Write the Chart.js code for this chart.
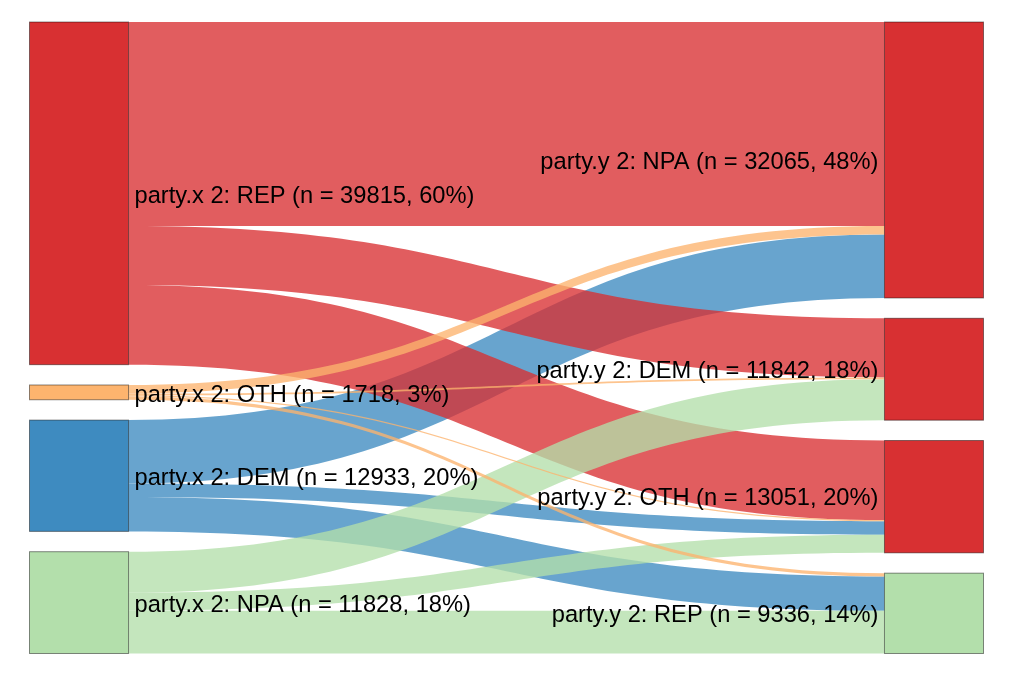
<!DOCTYPE html>
<html><head><meta charset="utf-8">
<script src="https://cdn.jsdelivr.net/npm/chart.js@4/dist/chart.umd.min.js"></script>
<style>html,body{margin:0;padding:0;background:#fff}#wrap{width:1013px;height:675px;position:relative}</style>
</head><body><div id="wrap"><canvas id="c"></canvas></div>
<script>
// Left (party.x 2) node order and right (party.y 2) node order
const leftNodes = ['REP', 'OTH', 'DEM', 'NPA'];
const rightNodes = ['NPA', 'DEM', 'OTH', 'REP'];
// flows from each left node to right nodes [NPA, DEM, OTH, REP]
const fromREP = [23700, 6870, 9245, 0];
const fromOTH = [1000, 200, 130, 388];
const fromDEM = [7365, 0, 1578, 3990];
const fromNPA = [0, 4772, 2098, 4958];
const flowRows = {REP: fromREP, OTH: fromOTH, DEM: fromDEM, NPA: fromNPA};

const nodeRGB = {REP: [216, 48, 50], OTH: [253, 180, 110], DEM: [62, 139, 192], NPA: [179, 223, 171]};
const rightNodeRGB = [[216, 48, 50], [216, 48, 50], [216, 48, 50], [179, 223, 171]];
const drawOrder = ['DEM', 'REP', 'NPA', 'OTH'];
const GAP = 2360;
const NODE_W = 0.1038;

const leftTotals = leftNodes.map(s => flowRows[s].reduce((a, b) => a + b, 0));
const rightTotals = rightNodes.map((t, j) => leftNodes.reduce((a, s) => a + flowRows[s][j], 0));
const grand = leftTotals.reduce((a, b) => a + b, 0);
const yMax = grand + GAP * 3;

function layout(totals) {
  let y = 0; const out = [];
  totals.forEach(v => { out.push({y0: y, y1: y + v}); y += v + GAP; });
  return out;
}
const L = layout(leftTotals), R = layout(rightTotals);

const sankeyPlugin = {
  id: 'sankey',
  afterDatasetsDraw(chart) {
    const ctx = chart.ctx, xs = chart.scales.x, ys = chart.scales.y;
    const px = v => xs.getPixelForValue(v), py = v => ys.getPixelForValue(v);
    const links = [];
    const srcOff = L.map(n => n.y0);
    leftNodes.forEach((s, i) => {
      rightNodes.forEach((t, j) => {
        const v = flowRows[s][j];
        if (v > 0) { links.push({s, i, j, v, sy0: srcOff[i], sy1: srcOff[i] + v}); srcOff[i] += v; }
      });
    });
    const tgtOff = R.map(n => n.y0);
    rightNodes.forEach((t, j) => {
      leftNodes.forEach((s, i) => {
        const lk = links.find(l => l.i === i && l.j === j);
        if (lk) { lk.ty0 = tgtOff[j]; lk.ty1 = tgtOff[j] + lk.v; tgtOff[j] += lk.v; }
      });
    });
    const x0 = px(NODE_W), x1 = px(1 - NODE_W), xm = (x0 + x1) / 2;
    ctx.save();
    drawOrder.forEach(s => {
      links.filter(l => l.s === s).forEach(l => {
        const c = nodeRGB[s];
        ctx.fillStyle = `rgba(${c[0]},${c[1]},${c[2]},0.78)`;
        ctx.beginPath();
        ctx.moveTo(x0, py(l.sy0));
        ctx.bezierCurveTo(xm, py(l.sy0), xm, py(l.ty0), x1, py(l.ty0));
        ctx.lineTo(x1, py(l.ty1));
        ctx.bezierCurveTo(xm, py(l.ty1), xm, py(l.sy1), x0, py(l.sy1));
        ctx.closePath();
        ctx.fill();
      });
    });
    const drawNode = (c, n, xa, xb) => {
      const X0 = px(xa), X1 = px(xb), Y0 = py(n.y0), Y1 = py(n.y1);
      ctx.fillStyle = `rgb(${c[0]},${c[1]},${c[2]})`;
      ctx.fillRect(X0, Y0, X1 - X0, Y1 - Y0);
      ctx.strokeStyle = 'rgba(0,0,0,0.45)';
      ctx.lineWidth = 1;
      ctx.strokeRect(X0, Y0, X1 - X0, Y1 - Y0);
    };
    leftNodes.forEach((s, i) => drawNode(nodeRGB[s], L[i], 0, NODE_W));
    rightNodes.forEach((t, j) => drawNode(rightNodeRGB[j], R[j], 1 - NODE_W, 1));
    ctx.fillStyle = '#000';
    ctx.font = '23.7px "Liberation Sans", Arial, sans-serif';
    ctx.textBaseline = 'middle';
    ctx.textAlign = 'left';
    leftNodes.forEach((s, i) => {
      const pct = Math.round(leftTotals[i] / grand * 100);
      ctx.fillText(`party.x 2: ${s} (n = ${leftTotals[i]}, ${pct}%)`, x0 + 6, py((L[i].y0 + L[i].y1) / 2) + 3);
    });
    ctx.textAlign = 'right';
    rightNodes.forEach((t, j) => {
      const pct = Math.round(rightTotals[j] / grand * 100);
      ctx.fillText(`party.y 2: ${t} (n = ${rightTotals[j]}, ${pct}%)`, x1 - 6, py((R[j].y0 + R[j].y1) / 2) + 2);
    });
    ctx.restore();
  }
};

new Chart(document.getElementById('c'), {
  type: 'scatter',
  data: {datasets: [{data: [], pointRadius: 0}]},
  options: {
    responsive: true, maintainAspectRatio: false, animation: false,
    layout: {padding: {left: 29.5, right: 29.5, top: 22, bottom: 21.5}},
    plugins: {legend: {display: false}, tooltip: {enabled: false}},
    scales: {
      x: {type: 'linear', min: 0, max: 1, display: false},
      y: {type: 'linear', min: 0, max: yMax, reverse: true, display: false}
    }
  },
  plugins: [sankeyPlugin]
});
</script></body></html>
